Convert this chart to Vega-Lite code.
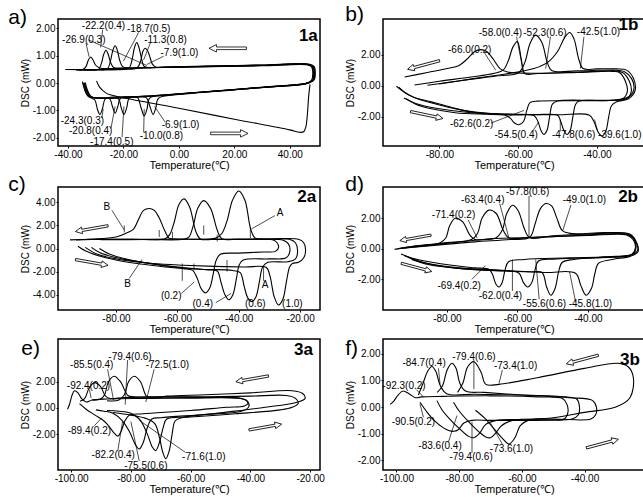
{
"$schema":"https://vega.github.io/schema/vega-lite/v6.json",
"background":"white",
"padding":{"left":7,"top":3,"right":0,"bottom":0},
"datasets":{
"curves":[
{"p":"a","s":"a1","x":-34.8,"y":0.05},{"p":"a","s":"a1","x":-34.0,"y":-0.25},{"p":"a","s":"a1","x":-33.0,"y":-0.45},{"p":"a","s":"a1","x":-31.5,"y":-0.55},{"p":"a","s":"a1","x":-30.3,"y":-0.62},{"p":"a","s":"a1","x":-29.4,"y":-0.95},{"p":"a","s":"a1","x":-28.5,"y":-1.15},{"p":"a","s":"a1","x":-27.6,"y":-0.95},{"p":"a","s":"a1","x":-26.7,"y":-0.6},{"p":"a","s":"a1","x":-25.5,"y":-0.53},{"p":"a","s":"a1","x":-15,"y":-0.5},{"p":"a","s":"a1","x":-5,"y":-0.44},{"p":"a","s":"a1","x":15,"y":-0.28},{"p":"a","s":"a1","x":35,"y":-0.12},{"p":"a","s":"a1","x":45.5,"y":-0.03},{"p":"a","s":"a1","x":47.8,"y":0.1},{"p":"a","s":"a1","x":48.3,"y":0.35},{"p":"a","s":"a1","x":47.8,"y":0.6},{"p":"a","s":"a1","x":46.5,"y":0.66},{"p":"a","s":"a1","x":30,"y":0.63},{"p":"a","s":"a1","x":10,"y":0.6},{"p":"a","s":"a1","x":-10,"y":0.56},{"p":"a","s":"a1","x":-25,"y":0.53},{"p":"a","s":"a1","x":-28.5,"y":0.55},{"p":"a","s":"a1","x":-30.0,"y":0.65},{"p":"a","s":"a1","x":-31.0,"y":0.85},{"p":"a","s":"a1","x":-31.8,"y":0.95},{"p":"a","s":"a1","x":-32.6,"y":0.85},{"p":"a","s":"a1","x":-33.5,"y":0.6},{"p":"a","s":"a1","x":-34.5,"y":0.5},{"p":"a","s":"a1","x":-37,"y":0.47},
{"p":"a","s":"a2","x":-34.5,"y":0.0},{"p":"a","s":"a2","x":-33.6,"y":-0.3},{"p":"a","s":"a2","x":-32.5,"y":-0.5},{"p":"a","s":"a2","x":-28,"y":-0.55},{"p":"a","s":"a2","x":-25,"y":-0.57},{"p":"a","s":"a2","x":-24.0,"y":-0.85},{"p":"a","s":"a2","x":-23.0,"y":-1.1},{"p":"a","s":"a2","x":-22.0,"y":-0.85},{"p":"a","s":"a2","x":-21.0,"y":-0.55},{"p":"a","s":"a2","x":-15,"y":-0.5},{"p":"a","s":"a2","x":-5,"y":-0.43},{"p":"a","s":"a2","x":15,"y":-0.27},{"p":"a","s":"a2","x":35,"y":-0.11},{"p":"a","s":"a2","x":45.8,"y":-0.02},{"p":"a","s":"a2","x":48.2,"y":0.1},{"p":"a","s":"a2","x":48.6,"y":0.35},{"p":"a","s":"a2","x":48.0,"y":0.6},{"p":"a","s":"a2","x":46.5,"y":0.67},{"p":"a","s":"a2","x":30,"y":0.64},{"p":"a","s":"a2","x":10,"y":0.6},{"p":"a","s":"a2","x":-10,"y":0.57},{"p":"a","s":"a2","x":-20,"y":0.55},{"p":"a","s":"a2","x":-23.5,"y":0.57},{"p":"a","s":"a2","x":-24.6,"y":0.75},{"p":"a","s":"a2","x":-25.5,"y":1.05},{"p":"a","s":"a2","x":-26.3,"y":1.2},{"p":"a","s":"a2","x":-27.1,"y":1.05},{"p":"a","s":"a2","x":-28.0,"y":0.7},{"p":"a","s":"a2","x":-29.0,"y":0.5},{"p":"a","s":"a2","x":-32,"y":0.47},{"p":"a","s":"a2","x":-36,"y":0.47},
{"p":"a","s":"a3","x":-34.2,"y":0.02},{"p":"a","s":"a3","x":-33.3,"y":-0.3},{"p":"a","s":"a3","x":-32.0,"y":-0.5},{"p":"a","s":"a3","x":-25,"y":-0.55},{"p":"a","s":"a3","x":-21.8,"y":-0.58},{"p":"a","s":"a3","x":-20.8,"y":-0.9},{"p":"a","s":"a3","x":-19.8,"y":-1.15},{"p":"a","s":"a3","x":-18.8,"y":-0.9},{"p":"a","s":"a3","x":-17.8,"y":-0.55},{"p":"a","s":"a3","x":-10,"y":-0.48},{"p":"a","s":"a3","x":0,"y":-0.4},{"p":"a","s":"a3","x":20,"y":-0.24},{"p":"a","s":"a3","x":40,"y":-0.08},{"p":"a","s":"a3","x":46.2,"y":0.0},{"p":"a","s":"a3","x":48.5,"y":0.12},{"p":"a","s":"a3","x":48.9,"y":0.35},{"p":"a","s":"a3","x":48.3,"y":0.6},{"p":"a","s":"a3","x":46.8,"y":0.68},{"p":"a","s":"a3","x":30,"y":0.65},{"p":"a","s":"a3","x":10,"y":0.61},{"p":"a","s":"a3","x":-10,"y":0.57},{"p":"a","s":"a3","x":-18,"y":0.55},{"p":"a","s":"a3","x":-20.3,"y":0.6},{"p":"a","s":"a3","x":-21.4,"y":0.85},{"p":"a","s":"a3","x":-22.2,"y":1.2},{"p":"a","s":"a3","x":-23.0,"y":1.36},{"p":"a","s":"a3","x":-23.8,"y":1.2},{"p":"a","s":"a3","x":-24.7,"y":0.8},{"p":"a","s":"a3","x":-25.8,"y":0.52},{"p":"a","s":"a3","x":-30,"y":0.48},{"p":"a","s":"a3","x":-34,"y":0.48},
{"p":"a","s":"a4","x":-34.0,"y":0.0},{"p":"a","s":"a4","x":-33.0,"y":-0.32},{"p":"a","s":"a4","x":-31.8,"y":-0.5},{"p":"a","s":"a4","x":-25,"y":-0.55},{"p":"a","s":"a4","x":-15,"y":-0.53},{"p":"a","s":"a4","x":-14.5,"y":-0.6},{"p":"a","s":"a4","x":-13.5,"y":-0.95},{"p":"a","s":"a4","x":-12.5,"y":-1.2},{"p":"a","s":"a4","x":-11.5,"y":-0.95},{"p":"a","s":"a4","x":-10.5,"y":-0.55},{"p":"a","s":"a4","x":-5,"y":-0.45},{"p":"a","s":"a4","x":10,"y":-0.32},{"p":"a","s":"a4","x":30,"y":-0.16},{"p":"a","s":"a4","x":46,"y":-0.02},{"p":"a","s":"a4","x":48.5,"y":0.1},{"p":"a","s":"a4","x":49.0,"y":0.35},{"p":"a","s":"a4","x":48.5,"y":0.6},{"p":"a","s":"a4","x":47,"y":0.68},{"p":"a","s":"a4","x":30,"y":0.65},{"p":"a","s":"a4","x":10,"y":0.61},{"p":"a","s":"a4","x":-8,"y":0.57},{"p":"a","s":"a4","x":-11,"y":0.56},{"p":"a","s":"a4","x":-12.6,"y":0.62},{"p":"a","s":"a4","x":-13.6,"y":0.95},{"p":"a","s":"a4","x":-14.4,"y":1.3},{"p":"a","s":"a4","x":-15.2,"y":1.48},{"p":"a","s":"a4","x":-16.0,"y":1.3},{"p":"a","s":"a4","x":-16.9,"y":0.85},{"p":"a","s":"a4","x":-18.0,"y":0.55},{"p":"a","s":"a4","x":-22,"y":0.5},{"p":"a","s":"a4","x":-30,"y":0.49},{"p":"a","s":"a4","x":-41,"y":0.5},
{"p":"a","s":"a5","x":-33.8,"y":0.02},{"p":"a","s":"a5","x":-32.8,"y":-0.3},{"p":"a","s":"a5","x":-31.5,"y":-0.5},{"p":"a","s":"a5","x":-20,"y":-0.54},{"p":"a","s":"a5","x":-12,"y":-0.52},{"p":"a","s":"a5","x":-11.3,"y":-0.6},{"p":"a","s":"a5","x":-10.3,"y":-0.9},{"p":"a","s":"a5","x":-9.3,"y":-1.15},{"p":"a","s":"a5","x":-8.3,"y":-0.9},{"p":"a","s":"a5","x":-7.3,"y":-0.55},{"p":"a","s":"a5","x":0,"y":-0.42},{"p":"a","s":"a5","x":20,"y":-0.25},{"p":"a","s":"a5","x":40,"y":-0.08},{"p":"a","s":"a5","x":46.4,"y":0.0},{"p":"a","s":"a5","x":48.8,"y":0.12},{"p":"a","s":"a5","x":49.2,"y":0.35},{"p":"a","s":"a5","x":48.8,"y":0.6},{"p":"a","s":"a5","x":47.2,"y":0.69},{"p":"a","s":"a5","x":30,"y":0.66},{"p":"a","s":"a5","x":10,"y":0.62},{"p":"a","s":"a5","x":-5,"y":0.58},{"p":"a","s":"a5","x":-8.3,"y":0.58},{"p":"a","s":"a5","x":-9.6,"y":0.7},{"p":"a","s":"a5","x":-10.6,"y":1.0},{"p":"a","s":"a5","x":-11.4,"y":1.2},{"p":"a","s":"a5","x":-12.2,"y":1.27},{"p":"a","s":"a5","x":-13.0,"y":1.15},{"p":"a","s":"a5","x":-13.8,"y":0.8},{"p":"a","s":"a5","x":-15,"y":0.56},{"p":"a","s":"a5","x":-20,"y":0.5},{"p":"a","s":"a5","x":-28,"y":0.49},
{"p":"a","s":"a6","x":-29.7,"y":0.08},{"p":"a","s":"a6","x":-28.6,"y":-0.15},{"p":"a","s":"a6","x":-26.5,"y":-0.35},{"p":"a","s":"a6","x":-24.8,"y":-0.43},{"p":"a","s":"a6","x":0,"y":-0.92},{"p":"a","s":"a6","x":20,"y":-1.32},{"p":"a","s":"a6","x":40,"y":-1.71},{"p":"a","s":"a6","x":43.5,"y":-1.8},{"p":"a","s":"a6","x":45.0,"y":-1.78},{"p":"a","s":"a6","x":45.8,"y":-1.6},{"p":"a","s":"a6","x":46.3,"y":-1.2},{"p":"a","s":"a6","x":46.8,"y":-0.5},{"p":"a","s":"a6","x":47.3,"y":-0.05},

{"p":"b","s":"b1","x":-90.9,"y":-0.04},{"p":"b","s":"b1","x":-89,"y":-0.4},{"p":"b","s":"b1","x":-86.5,"y":-0.75},{"p":"b","s":"b1","x":-82,"y":-1.05},{"p":"b","s":"b1","x":-77,"y":-1.4},{"p":"b","s":"b1","x":-72,"y":-1.7},{"p":"b","s":"b1","x":-67,"y":-1.82},{"p":"b","s":"b1","x":-63.5,"y":-1.9},{"p":"b","s":"b1","x":-62,"y":-2.1},{"p":"b","s":"b1","x":-61,"y":-2.4},{"p":"b","s":"b1","x":-59.8,"y":-2.53},{"p":"b","s":"b1","x":-58.6,"y":-2.3},{"p":"b","s":"b1","x":-57.8,"y":-1.6},{"p":"b","s":"b1","x":-57,"y":-1.1},{"p":"b","s":"b1","x":-55,"y":-1.0},{"p":"b","s":"b1","x":-45,"y":-0.98},{"p":"b","s":"b1","x":-36,"y":-0.95},{"p":"b","s":"b1","x":-32.5,"y":-0.85},{"p":"b","s":"b1","x":-31.3,"y":-0.4},{"p":"b","s":"b1","x":-31.8,"y":0.3},{"p":"b","s":"b1","x":-33.5,"y":0.85},{"p":"b","s":"b1","x":-36,"y":0.95},{"p":"b","s":"b1","x":-45,"y":0.86},{"p":"b","s":"b1","x":-55,"y":0.8},{"p":"b","s":"b1","x":-62.7,"y":0.88},{"p":"b","s":"b1","x":-64.6,"y":1.1},{"p":"b","s":"b1","x":-66.3,"y":1.7},{"p":"b","s":"b1","x":-68,"y":2.2},{"p":"b","s":"b1","x":-69.5,"y":2.32},{"p":"b","s":"b1","x":-71,"y":2.2},{"p":"b","s":"b1","x":-73,"y":1.7},{"p":"b","s":"b1","x":-75,"y":1.3},{"p":"b","s":"b1","x":-78,"y":1.1},{"p":"b","s":"b1","x":-83,"y":0.85},{"p":"b","s":"b1","x":-88.8,"y":0.55},
{"p":"b","s":"b2","x":-88.4,"y":-0.84},{"p":"b","s":"b2","x":-86,"y":-1.2},{"p":"b","s":"b2","x":-82,"y":-1.5},{"p":"b","s":"b2","x":-76,"y":-1.75},{"p":"b","s":"b2","x":-68,"y":-1.85},{"p":"b","s":"b2","x":-60,"y":-1.9},{"p":"b","s":"b2","x":-56,"y":-1.93},{"p":"b","s":"b2","x":-55,"y":-2.3},{"p":"b","s":"b2","x":-54.2,"y":-2.9},{"p":"b","s":"b2","x":-53.5,"y":-3.16},{"p":"b","s":"b2","x":-52.7,"y":-2.9},{"p":"b","s":"b2","x":-52,"y":-2.0},{"p":"b","s":"b2","x":-51.3,"y":-1.2},{"p":"b","s":"b2","x":-50,"y":-1.0},{"p":"b","s":"b2","x":-40,"y":-0.95},{"p":"b","s":"b2","x":-33.5,"y":-0.85},{"p":"b","s":"b2","x":-32.3,"y":-0.4},{"p":"b","s":"b2","x":-32.8,"y":0.3},{"p":"b","s":"b2","x":-34.3,"y":0.85},{"p":"b","s":"b2","x":-36,"y":0.92},{"p":"b","s":"b2","x":-45,"y":0.85},{"p":"b","s":"b2","x":-55,"y":0.78},{"p":"b","s":"b2","x":-58.3,"y":0.78},{"p":"b","s":"b2","x":-59.2,"y":1.7},{"p":"b","s":"b2","x":-60.2,"y":2.84},{"p":"b","s":"b2","x":-61.3,"y":2.5},{"p":"b","s":"b2","x":-62.5,"y":1.6},{"p":"b","s":"b2","x":-63.8,"y":1.0},{"p":"b","s":"b2","x":-66,"y":0.8},{"p":"b","s":"b2","x":-72,"y":0.55},{"p":"b","s":"b2","x":-80,"y":0.28},{"p":"b","s":"b2","x":-86.3,"y":0.04},
{"p":"b","s":"b3","x":-90.3,"y":-0.1},{"p":"b","s":"b3","x":-88.5,"y":-0.5},{"p":"b","s":"b3","x":-85.5,"y":-0.85},{"p":"b","s":"b3","x":-80,"y":-1.25},{"p":"b","s":"b3","x":-74,"y":-1.6},{"p":"b","s":"b3","x":-66,"y":-1.82},{"p":"b","s":"b3","x":-56,"y":-1.88},{"p":"b","s":"b3","x":-50,"y":-1.92},{"p":"b","s":"b3","x":-49.2,"y":-2.3},{"p":"b","s":"b3","x":-48.4,"y":-2.9},{"p":"b","s":"b3","x":-47.6,"y":-3.16},{"p":"b","s":"b3","x":-46.8,"y":-2.9},{"p":"b","s":"b3","x":-46.1,"y":-2.0},{"p":"b","s":"b3","x":-45.4,"y":-1.2},{"p":"b","s":"b3","x":-44.5,"y":-1.0},{"p":"b","s":"b3","x":-36,"y":-0.95},{"p":"b","s":"b3","x":-31.8,"y":-0.7},{"p":"b","s":"b3","x":-30.6,"y":-0.2},{"p":"b","s":"b3","x":-31.2,"y":0.45},{"p":"b","s":"b3","x":-33,"y":0.9},{"p":"b","s":"b3","x":-36,"y":1.0},{"p":"b","s":"b3","x":-45,"y":0.95},{"p":"b","s":"b3","x":-51.5,"y":0.98},{"p":"b","s":"b3","x":-52.6,"y":1.5},{"p":"b","s":"b3","x":-54.0,"y":2.8},{"p":"b","s":"b3","x":-55.6,"y":3.26},{"p":"b","s":"b3","x":-57.0,"y":2.7},{"p":"b","s":"b3","x":-58.3,"y":1.5},{"p":"b","s":"b3","x":-59.8,"y":0.85},{"p":"b","s":"b3","x":-66,"y":0.6},{"p":"b","s":"b3","x":-74,"y":0.35},{"p":"b","s":"b3","x":-83,"y":0.02},
{"p":"b","s":"b4","x":-89,"y":-0.8},{"p":"b","s":"b4","x":-86,"y":-1.15},{"p":"b","s":"b4","x":-80,"y":-1.5},{"p":"b","s":"b4","x":-72,"y":-1.75},{"p":"b","s":"b4","x":-60,"y":-1.85},{"p":"b","s":"b4","x":-50,"y":-1.88},{"p":"b","s":"b4","x":-42,"y":-1.9},{"p":"b","s":"b4","x":-40.8,"y":-2.3},{"p":"b","s":"b4","x":-39.7,"y":-3.0},{"p":"b","s":"b4","x":-38.7,"y":-3.26},{"p":"b","s":"b4","x":-37.7,"y":-2.9},{"p":"b","s":"b4","x":-37.0,"y":-2.0},{"p":"b","s":"b4","x":-36.3,"y":-1.3},{"p":"b","s":"b4","x":-35,"y":-1.05},{"p":"b","s":"b4","x":-32,"y":-0.85},{"p":"b","s":"b4","x":-30.3,"y":-0.3},{"p":"b","s":"b4","x":-30.8,"y":0.5},{"p":"b","s":"b4","x":-32.5,"y":1.0},{"p":"b","s":"b4","x":-35,"y":1.08},{"p":"b","s":"b4","x":-40,"y":1.08},{"p":"b","s":"b4","x":-43.5,"y":1.1},{"p":"b","s":"b4","x":-44.6,"y":1.7},{"p":"b","s":"b4","x":-45.8,"y":3.0},{"p":"b","s":"b4","x":-46.9,"y":3.43},{"p":"b","s":"b4","x":-48.2,"y":3.1},{"p":"b","s":"b4","x":-50,"y":2.2},{"p":"b","s":"b4","x":-52.5,"y":1.5},{"p":"b","s":"b4","x":-56,"y":1.1},{"p":"b","s":"b4","x":-62,"y":0.8},{"p":"b","s":"b4","x":-70,"y":0.5},{"p":"b","s":"b4","x":-80,"y":0.1},

{"p":"c","s":"c1","x":-92.4,"y":0.2},{"p":"c","s":"c1","x":-90,"y":-0.2},{"p":"c","s":"c1","x":-86,"y":-0.6},{"p":"c","s":"c1","x":-80,"y":-1.0},{"p":"c","s":"c1","x":-72,"y":-1.35},{"p":"c","s":"c1","x":-64,"y":-1.6},{"p":"c","s":"c1","x":-58,"y":-1.75},{"p":"c","s":"c1","x":-55,"y":-1.9},{"p":"c","s":"c1","x":-53.5,"y":-2.6},{"p":"c","s":"c1","x":-52.2,"y":-3.5},{"p":"c","s":"c1","x":-50.8,"y":-3.85},{"p":"c","s":"c1","x":-49.4,"y":-3.4},{"p":"c","s":"c1","x":-48.3,"y":-2.2},{"p":"c","s":"c1","x":-47.3,"y":-1.0},{"p":"c","s":"c1","x":-46,"y":-0.5},{"p":"c","s":"c1","x":-40,"y":-0.4},{"p":"c","s":"c1","x":-32,"y":-0.3},{"p":"c","s":"c1","x":-28,"y":-0.25},{"p":"c","s":"c1","x":-27,"y":0.1},{"p":"c","s":"c1","x":-27.5,"y":0.5},{"p":"c","s":"c1","x":-29,"y":0.75},{"p":"c","s":"c1","x":-40,"y":0.78},{"p":"c","s":"c1","x":-55,"y":0.8},{"p":"c","s":"c1","x":-61,"y":0.82},{"p":"c","s":"c1","x":-62.7,"y":0.9},{"p":"c","s":"c1","x":-64.2,"y":1.6},{"p":"c","s":"c1","x":-66,"y":2.7},{"p":"c","s":"c1","x":-67.5,"y":3.3},{"p":"c","s":"c1","x":-69.2,"y":3.47},{"p":"c","s":"c1","x":-71,"y":3.3},{"p":"c","s":"c1","x":-72.7,"y":2.5},{"p":"c","s":"c1","x":-74.2,"y":1.7},{"p":"c","s":"c1","x":-76,"y":1.4},{"p":"c","s":"c1","x":-80,"y":1.0},{"p":"c","s":"c1","x":-88,"y":0.82},{"p":"c","s":"c1","x":-95,"y":0.75},
{"p":"c","s":"c2","x":-85.4,"y":0.0},{"p":"c","s":"c2","x":-82,"y":-0.5},{"p":"c","s":"c2","x":-76,"y":-0.95},{"p":"c","s":"c2","x":-68,"y":-1.35},{"p":"c","s":"c2","x":-60,"y":-1.65},{"p":"c","s":"c2","x":-50,"y":-1.85},{"p":"c","s":"c2","x":-47,"y":-1.95},{"p":"c","s":"c2","x":-45.8,"y":-2.9},{"p":"c","s":"c2","x":-44.5,"y":-4.0},{"p":"c","s":"c2","x":-43.2,"y":-4.44},{"p":"c","s":"c2","x":-41.9,"y":-4.0},{"p":"c","s":"c2","x":-40.8,"y":-2.7},{"p":"c","s":"c2","x":-39.8,"y":-1.4},{"p":"c","s":"c2","x":-38.5,"y":-1.0},{"p":"c","s":"c2","x":-30,"y":-0.9},{"p":"c","s":"c2","x":-24.5,"y":-0.8},{"p":"c","s":"c2","x":-23.3,"y":-0.2},{"p":"c","s":"c2","x":-23.8,"y":0.4},{"p":"c","s":"c2","x":-25.5,"y":0.72},{"p":"c","s":"c2","x":-35,"y":0.78},{"p":"c","s":"c2","x":-48,"y":0.8},{"p":"c","s":"c2","x":-52.5,"y":0.82},{"p":"c","s":"c2","x":-54,"y":1.5},{"p":"c","s":"c2","x":-56,"y":3.6},{"p":"c","s":"c2","x":-57.8,"y":4.3},{"p":"c","s":"c2","x":-59.5,"y":3.8},{"p":"c","s":"c2","x":-61,"y":2.3},{"p":"c","s":"c2","x":-62.5,"y":1.2},{"p":"c","s":"c2","x":-64,"y":0.85},{"p":"c","s":"c2","x":-75,"y":0.8},{"p":"c","s":"c2","x":-88,"y":0.78},{"p":"c","s":"c2","x":-93,"y":0.74},
{"p":"c","s":"c3","x":-88,"y":0.1},{"p":"c","s":"c3","x":-85,"y":-0.4},{"p":"c","s":"c3","x":-78,"y":-0.9},{"p":"c","s":"c3","x":-70,"y":-1.25},{"p":"c","s":"c3","x":-62,"y":-1.55},{"p":"c","s":"c3","x":-52,"y":-1.8},{"p":"c","s":"c3","x":-42,"y":-1.9},{"p":"c","s":"c3","x":-39.5,"y":-2.1},{"p":"c","s":"c3","x":-38.2,"y":-3.3},{"p":"c","s":"c3","x":-37,"y":-4.3},{"p":"c","s":"c3","x":-35.7,"y":-4.6},{"p":"c","s":"c3","x":-34.4,"y":-4.2},{"p":"c","s":"c3","x":-33.2,"y":-2.8},{"p":"c","s":"c3","x":-32.2,"y":-1.6},{"p":"c","s":"c3","x":-30.5,"y":-1.2},{"p":"c","s":"c3","x":-24,"y":-1.15},{"p":"c","s":"c3","x":-21.5,"y":-0.9},{"p":"c","s":"c3","x":-20.8,"y":-0.2},{"p":"c","s":"c3","x":-21.5,"y":0.5},{"p":"c","s":"c3","x":-23.5,"y":0.8},{"p":"c","s":"c3","x":-30,"y":0.82},{"p":"c","s":"c3","x":-40,"y":0.82},{"p":"c","s":"c3","x":-45.5,"y":0.85},{"p":"c","s":"c3","x":-47,"y":1.6},{"p":"c","s":"c3","x":-49.2,"y":3.5},{"p":"c","s":"c3","x":-51.4,"y":4.15},{"p":"c","s":"c3","x":-53.3,"y":3.5},{"p":"c","s":"c3","x":-54.8,"y":2.0},{"p":"c","s":"c3","x":-56.2,"y":1.0},{"p":"c","s":"c3","x":-58,"y":0.8},{"p":"c","s":"c3","x":-70,"y":0.78},{"p":"c","s":"c3","x":-85,"y":0.76},
{"p":"c","s":"c4","x":-90,"y":0.1},{"p":"c","s":"c4","x":-86,"y":-0.5},{"p":"c","s":"c4","x":-78,"y":-1.0},{"p":"c","s":"c4","x":-68,"y":-1.3},{"p":"c","s":"c4","x":-58,"y":-1.45},{"p":"c","s":"c4","x":-48,"y":-1.55},{"p":"c","s":"c4","x":-38,"y":-1.6},{"p":"c","s":"c4","x":-31,"y":-1.65},{"p":"c","s":"c4","x":-29.8,"y":-2.4},{"p":"c","s":"c4","x":-28.4,"y":-4.2},{"p":"c","s":"c4","x":-27,"y":-4.9},{"p":"c","s":"c4","x":-25.6,"y":-4.4},{"p":"c","s":"c4","x":-24.4,"y":-2.8},{"p":"c","s":"c4","x":-23.4,"y":-1.6},{"p":"c","s":"c4","x":-22.5,"y":-1.3},{"p":"c","s":"c4","x":-20.5,"y":-1.2},{"p":"c","s":"c4","x":-18.8,"y":-0.8},{"p":"c","s":"c4","x":-18.2,"y":-0.2},{"p":"c","s":"c4","x":-18.8,"y":0.5},{"p":"c","s":"c4","x":-20.5,"y":0.8},{"p":"c","s":"c4","x":-28,"y":0.85},{"p":"c","s":"c4","x":-34.5,"y":0.88},{"p":"c","s":"c4","x":-36,"y":1.6},{"p":"c","s":"c4","x":-38,"y":4.2},{"p":"c","s":"c4","x":-40,"y":4.98},{"p":"c","s":"c4","x":-42,"y":4.2},{"p":"c","s":"c4","x":-43.8,"y":2.4},{"p":"c","s":"c4","x":-45.5,"y":1.3},{"p":"c","s":"c4","x":-47.5,"y":0.9},{"p":"c","s":"c4","x":-60,"y":0.82},{"p":"c","s":"c4","x":-75,"y":0.8},{"p":"c","s":"c4","x":-90,"y":0.78},

{"p":"d","s":"d1","x":-93,"y":-0.35},{"p":"d","s":"d1","x":-90,"y":-0.6},{"p":"d","s":"d1","x":-85,"y":-0.85},{"p":"d","s":"d1","x":-78,"y":-1.1},{"p":"d","s":"d1","x":-72,"y":-1.25},{"p":"d","s":"d1","x":-68,"y":-1.35},{"p":"d","s":"d1","x":-67,"y":-1.7},{"p":"d","s":"d1","x":-66.1,"y":-2.3},{"p":"d","s":"d1","x":-65.2,"y":-2.5},{"p":"d","s":"d1","x":-64.3,"y":-2.2},{"p":"d","s":"d1","x":-63.5,"y":-1.4},{"p":"d","s":"d1","x":-62.5,"y":-0.85},{"p":"d","s":"d1","x":-58,"y":-0.7},{"p":"d","s":"d1","x":-45,"y":-0.6},{"p":"d","s":"d1","x":-32,"y":-0.5},{"p":"d","s":"d1","x":-27.5,"y":-0.35},{"p":"d","s":"d1","x":-26.5,"y":0.1},{"p":"d","s":"d1","x":-27.2,"y":0.6},{"p":"d","s":"d1","x":-29,"y":0.9},{"p":"d","s":"d1","x":-40,"y":0.86},{"p":"d","s":"d1","x":-55,"y":0.75},{"p":"d","s":"d1","x":-68,"y":0.65},{"p":"d","s":"d1","x":-72,"y":0.6},{"p":"d","s":"d1","x":-73.5,"y":0.9},{"p":"d","s":"d1","x":-75.5,"y":1.75},{"p":"d","s":"d1","x":-77.6,"y":1.99},{"p":"d","s":"d1","x":-79.2,"y":1.5},{"p":"d","s":"d1","x":-80.3,"y":0.7},{"p":"d","s":"d1","x":-82,"y":0.38},{"p":"d","s":"d1","x":-88,"y":0.2},{"p":"d","s":"d1","x":-94.8,"y":-0.04},
{"p":"d","s":"d2","x":-92,"y":-0.45},{"p":"d","s":"d2","x":-88,"y":-0.8},{"p":"d","s":"d2","x":-82,"y":-1.1},{"p":"d","s":"d2","x":-74,"y":-1.3},{"p":"d","s":"d2","x":-62,"y":-1.45},{"p":"d","s":"d2","x":-59.5,"y":-1.6},{"p":"d","s":"d2","x":-58.3,"y":-2.2},{"p":"d","s":"d2","x":-57.1,"y":-2.5},{"p":"d","s":"d2","x":-55.9,"y":-2.2},{"p":"d","s":"d2","x":-55,"y":-1.4},{"p":"d","s":"d2","x":-54,"y":-0.8},{"p":"d","s":"d2","x":-50,"y":-0.68},{"p":"d","s":"d2","x":-40,"y":-0.6},{"p":"d","s":"d2","x":-30,"y":-0.5},{"p":"d","s":"d2","x":-27,"y":-0.3},{"p":"d","s":"d2","x":-26.3,"y":0.15},{"p":"d","s":"d2","x":-27,"y":0.65},{"p":"d","s":"d2","x":-29,"y":0.95},{"p":"d","s":"d2","x":-40,"y":0.9},{"p":"d","s":"d2","x":-55,"y":0.75},{"p":"d","s":"d2","x":-62.5,"y":0.72},{"p":"d","s":"d2","x":-64,"y":1.2},{"p":"d","s":"d2","x":-66,"y":2.3},{"p":"d","s":"d2","x":-68.1,"y":2.52},{"p":"d","s":"d2","x":-70,"y":2.0},{"p":"d","s":"d2","x":-71.3,"y":1.0},{"p":"d","s":"d2","x":-73,"y":0.6},{"p":"d","s":"d2","x":-80,"y":0.4},{"p":"d","s":"d2","x":-88,"y":0.2},{"p":"d","s":"d2","x":-94,"y":0.0},
{"p":"d","s":"d3","x":-91,"y":-0.55},{"p":"d","s":"d3","x":-86,"y":-0.95},{"p":"d","s":"d3","x":-78,"y":-1.25},{"p":"d","s":"d3","x":-68,"y":-1.4},{"p":"d","s":"d3","x":-56,"y":-1.5},{"p":"d","s":"d3","x":-53,"y":-1.55},{"p":"d","s":"d3","x":-51.7,"y":-2.5},{"p":"d","s":"d3","x":-50.5,"y":-3.04},{"p":"d","s":"d3","x":-49.3,"y":-2.6},{"p":"d","s":"d3","x":-48.3,"y":-1.5},{"p":"d","s":"d3","x":-47.3,"y":-0.9},{"p":"d","s":"d3","x":-44,"y":-0.7},{"p":"d","s":"d3","x":-35,"y":-0.55},{"p":"d","s":"d3","x":-28,"y":-0.45},{"p":"d","s":"d3","x":-25.9,"y":-0.1},{"p":"d","s":"d3","x":-26.3,"y":0.4},{"p":"d","s":"d3","x":-28.5,"y":0.95},{"p":"d","s":"d3","x":-40,"y":0.95},{"p":"d","s":"d3","x":-50,"y":0.85},{"p":"d","s":"d3","x":-56.5,"y":0.72},{"p":"d","s":"d3","x":-58,"y":1.3},{"p":"d","s":"d3","x":-59.8,"y":2.5},{"p":"d","s":"d3","x":-61.4,"y":2.84},{"p":"d","s":"d3","x":-63,"y":2.3},{"p":"d","s":"d3","x":-64.3,"y":1.2},{"p":"d","s":"d3","x":-66,"y":0.72},{"p":"d","s":"d3","x":-72,"y":0.55},{"p":"d","s":"d3","x":-82,"y":0.3},{"p":"d","s":"d3","x":-93,"y":0.02},
{"p":"d","s":"d4","x":-90,"y":-0.7},{"p":"d","s":"d4","x":-85,"y":-1.05},{"p":"d","s":"d4","x":-76,"y":-1.3},{"p":"d","s":"d4","x":-64,"y":-1.45},{"p":"d","s":"d4","x":-52,"y":-1.55},{"p":"d","s":"d4","x":-43.5,"y":-1.6},{"p":"d","s":"d4","x":-42,"y":-2.4},{"p":"d","s":"d4","x":-40.5,"y":-3.04},{"p":"d","s":"d4","x":-39.0,"y":-2.6},{"p":"d","s":"d4","x":-38,"y":-1.6},{"p":"d","s":"d4","x":-37,"y":-0.95},{"p":"d","s":"d4","x":-33,"y":-0.7},{"p":"d","s":"d4","x":-28,"y":-0.5},{"p":"d","s":"d4","x":-25.8,"y":-0.2},{"p":"d","s":"d4","x":-26,"y":0.3},{"p":"d","s":"d4","x":-28,"y":0.95},{"p":"d","s":"d4","x":-35,"y":1.05},{"p":"d","s":"d4","x":-45,"y":1.0},{"p":"d","s":"d4","x":-47.3,"y":1.2},{"p":"d","s":"d4","x":-48.8,"y":2.0},{"p":"d","s":"d4","x":-50.3,"y":2.8},{"p":"d","s":"d4","x":-51.9,"y":2.95},{"p":"d","s":"d4","x":-53.5,"y":2.6},{"p":"d","s":"d4","x":-55,"y":1.6},{"p":"d","s":"d4","x":-56.5,"y":0.75},{"p":"d","s":"d4","x":-62,"y":0.6},{"p":"d","s":"d4","x":-72,"y":0.45},{"p":"d","s":"d4","x":-82,"y":0.25},{"p":"d","s":"d4","x":-92,"y":0.05},

{"p":"e","s":"e1","x":-97.2,"y":0.32},{"p":"e","s":"e1","x":-95,"y":-0.1},{"p":"e","s":"e1","x":-92,"y":-0.55},{"p":"e","s":"e1","x":-89,"y":-1.0},{"p":"e","s":"e1","x":-87,"y":-1.5},{"p":"e","s":"e1","x":-85.5,"y":-1.95},{"p":"e","s":"e1","x":-84.4,"y":-2.15},{"p":"e","s":"e1","x":-83.3,"y":-1.8},{"p":"e","s":"e1","x":-82,"y":-1.0},{"p":"e","s":"e1","x":-80.5,"y":-0.55},{"p":"e","s":"e1","x":-76,"y":-0.45},{"p":"e","s":"e1","x":-60,"y":-0.2},{"p":"e","s":"e1","x":-48,"y":0.05},{"p":"e","s":"e1","x":-42,"y":0.15},{"p":"e","s":"e1","x":-40.8,"y":0.35},{"p":"e","s":"e1","x":-41.5,"y":0.6},{"p":"e","s":"e1","x":-45,"y":0.75},{"p":"e","s":"e1","x":-60,"y":0.75},{"p":"e","s":"e1","x":-75,"y":0.72},{"p":"e","s":"e1","x":-88,"y":0.68},{"p":"e","s":"e1","x":-93,"y":0.6},{"p":"e","s":"e1","x":-95,"y":0.45},{"p":"e","s":"e1","x":-96.5,"y":0.7},{"p":"e","s":"e1","x":-97.7,"y":1.15},{"p":"e","s":"e1","x":-98.9,"y":1.31},{"p":"e","s":"e1","x":-99.8,"y":0.9},{"p":"e","s":"e1","x":-100.5,"y":0.3},{"p":"e","s":"e1","x":-101.2,"y":-0.1},
{"p":"e","s":"e2","x":-91.7,"y":-0.15},{"p":"e","s":"e2","x":-89,"y":-0.25},{"p":"e","s":"e2","x":-86,"y":-0.4},{"p":"e","s":"e2","x":-83,"y":-0.95},{"p":"e","s":"e2","x":-80.5,"y":-1.8},{"p":"e","s":"e2","x":-78.5,"y":-2.8},{"p":"e","s":"e2","x":-77.2,"y":-3.14},{"p":"e","s":"e2","x":-75.8,"y":-2.6},{"p":"e","s":"e2","x":-74.5,"y":-1.5},{"p":"e","s":"e2","x":-73,"y":-0.85},{"p":"e","s":"e2","x":-70,"y":-0.75},{"p":"e","s":"e2","x":-55,"y":-0.5},{"p":"e","s":"e2","x":-43,"y":-0.25},{"p":"e","s":"e2","x":-40.5,"y":0.1},{"p":"e","s":"e2","x":-41,"y":0.5},{"p":"e","s":"e2","x":-43,"y":0.72},{"p":"e","s":"e2","x":-55,"y":0.8},{"p":"e","s":"e2","x":-70,"y":0.82},{"p":"e","s":"e2","x":-82,"y":0.8},{"p":"e","s":"e2","x":-87,"y":0.72},{"p":"e","s":"e2","x":-88.5,"y":0.9},{"p":"e","s":"e2","x":-90.2,"y":1.65},{"p":"e","s":"e2","x":-92.2,"y":1.93},{"p":"e","s":"e2","x":-94,"y":1.5},{"p":"e","s":"e2","x":-95.5,"y":0.7},{"p":"e","s":"e2","x":-97,"y":0.5},
{"p":"e","s":"e3","x":-88,"y":-0.2},{"p":"e","s":"e3","x":-84,"y":-0.25},{"p":"e","s":"e3","x":-80,"y":-0.4},{"p":"e","s":"e3","x":-77,"y":-0.9},{"p":"e","s":"e3","x":-74.5,"y":-2.0},{"p":"e","s":"e3","x":-72.8,"y":-3.0},{"p":"e","s":"e3","x":-71.7,"y":-3.26},{"p":"e","s":"e3","x":-70.4,"y":-2.6},{"p":"e","s":"e3","x":-69.2,"y":-1.5},{"p":"e","s":"e3","x":-68,"y":-0.85},{"p":"e","s":"e3","x":-60,"y":-0.7},{"p":"e","s":"e3","x":-45,"y":-0.45},{"p":"e","s":"e3","x":-30,"y":-0.15},{"p":"e","s":"e3","x":-26,"y":0.05},{"p":"e","s":"e3","x":-24,"y":0.35},{"p":"e","s":"e3","x":-25,"y":0.75},{"p":"e","s":"e3","x":-28,"y":0.95},{"p":"e","s":"e3","x":-40,"y":0.9},{"p":"e","s":"e3","x":-55,"y":0.85},{"p":"e","s":"e3","x":-70,"y":0.85},{"p":"e","s":"e3","x":-79,"y":0.85},{"p":"e","s":"e3","x":-81,"y":0.95},{"p":"e","s":"e3","x":-83.5,"y":2.0},{"p":"e","s":"e3","x":-85.6,"y":2.42},{"p":"e","s":"e3","x":-87.5,"y":2.0},{"p":"e","s":"e3","x":-88.8,"y":1.0},{"p":"e","s":"e3","x":-90,"y":0.7},{"p":"e","s":"e3","x":-93,"y":0.6},
{"p":"e","s":"e4","x":-86,"y":-0.35},{"p":"e","s":"e4","x":-80,"y":-0.55},{"p":"e","s":"e4","x":-75,"y":-0.8},{"p":"e","s":"e4","x":-72,"y":-1.2},{"p":"e","s":"e4","x":-70.5,"y":-2.2},{"p":"e","s":"e4","x":-69.3,"y":-3.4},{"p":"e","s":"e4","x":-68.3,"y":-3.88},{"p":"e","s":"e4","x":-67.2,"y":-3.3},{"p":"e","s":"e4","x":-66.2,"y":-2.0},{"p":"e","s":"e4","x":-65.2,"y":-1.0},{"p":"e","s":"e4","x":-63,"y":-0.75},{"p":"e","s":"e4","x":-50,"y":-0.38},{"p":"e","s":"e4","x":-35,"y":0.05},{"p":"e","s":"e4","x":-25,"y":0.4},{"p":"e","s":"e4","x":-21.7,"y":0.72},{"p":"e","s":"e4","x":-22.5,"y":1.1},{"p":"e","s":"e4","x":-26,"y":1.31},{"p":"e","s":"e4","x":-40,"y":1.15},{"p":"e","s":"e4","x":-55,"y":1.0},{"p":"e","s":"e4","x":-68,"y":0.9},{"p":"e","s":"e4","x":-73,"y":0.75},{"p":"e","s":"e4","x":-74.8,"y":0.9},{"p":"e","s":"e4","x":-76.8,"y":2.0},{"p":"e","s":"e4","x":-78.9,"y":2.42},{"p":"e","s":"e4","x":-80.8,"y":2.0},{"p":"e","s":"e4","x":-82.2,"y":1.0},{"p":"e","s":"e4","x":-84,"y":0.6},{"p":"e","s":"e4","x":-88,"y":0.55},

{"p":"f","s":"f1","x":-92.5,"y":0.18},{"p":"f","s":"f1","x":-90.5,"y":-0.15},{"p":"f","s":"f1","x":-88,"y":-0.5},{"p":"f","s":"f1","x":-85,"y":-0.78},{"p":"f","s":"f1","x":-83.3,"y":-0.88},{"p":"f","s":"f1","x":-81.8,"y":-0.91},{"p":"f","s":"f1","x":-80.3,"y":-0.85},{"p":"f","s":"f1","x":-78.5,"y":-0.6},{"p":"f","s":"f1","x":-76,"y":-0.5},{"p":"f","s":"f1","x":-70,"y":-0.5},{"p":"f","s":"f1","x":-60,"y":-0.5},{"p":"f","s":"f1","x":-50,"y":-0.48},{"p":"f","s":"f1","x":-46.5,"y":-0.45},{"p":"f","s":"f1","x":-45.3,"y":-0.2},{"p":"f","s":"f1","x":-45.6,"y":0.1},{"p":"f","s":"f1","x":-47,"y":0.32},{"p":"f","s":"f1","x":-55,"y":0.38},{"p":"f","s":"f1","x":-70,"y":0.42},{"p":"f","s":"f1","x":-85,"y":0.4},{"p":"f","s":"f1","x":-92,"y":0.38},{"p":"f","s":"f1","x":-94,"y":0.35},{"p":"f","s":"f1","x":-96,"y":0.5},{"p":"f","s":"f1","x":-97.9,"y":0.6},{"p":"f","s":"f1","x":-99.5,"y":0.45},{"p":"f","s":"f1","x":-101,"y":0.2},{"p":"f","s":"f1","x":-102,"y":0.1},
{"p":"f","s":"f2","x":-87.1,"y":0.24},{"p":"f","s":"f2","x":-85.5,"y":-0.1},{"p":"f","s":"f2","x":-83,"y":-0.45},{"p":"f","s":"f2","x":-80,"y":-0.8},{"p":"f","s":"f2","x":-77,"y":-1.1},{"p":"f","s":"f2","x":-75.3,"y":-1.15},{"p":"f","s":"f2","x":-73.6,"y":-1.0},{"p":"f","s":"f2","x":-71.5,"y":-0.65},{"p":"f","s":"f2","x":-68,"y":-0.5},{"p":"f","s":"f2","x":-55,"y":-0.48},{"p":"f","s":"f2","x":-44,"y":-0.45},{"p":"f","s":"f2","x":-42,"y":-0.3},{"p":"f","s":"f2","x":-41.6,"y":0.0},{"p":"f","s":"f2","x":-42.5,"y":0.3},{"p":"f","s":"f2","x":-46,"y":0.38},{"p":"f","s":"f2","x":-60,"y":0.45},{"p":"f","s":"f2","x":-75,"y":0.48},{"p":"f","s":"f2","x":-84,"y":0.5},{"p":"f","s":"f2","x":-86,"y":0.8},{"p":"f","s":"f2","x":-87.5,"y":1.35},{"p":"f","s":"f2","x":-88.7,"y":1.52},{"p":"f","s":"f2","x":-90,"y":1.35},{"p":"f","s":"f2","x":-91.5,"y":0.9},{"p":"f","s":"f2","x":-93,"y":0.45},
{"p":"f","s":"f3","x":-81.8,"y":0.18},{"p":"f","s":"f3","x":-80,"y":-0.15},{"p":"f","s":"f3","x":-77,"y":-0.55},{"p":"f","s":"f3","x":-73.5,"y":-0.95},{"p":"f","s":"f3","x":-71.5,"y":-1.12},{"p":"f","s":"f3","x":-70,"y":-1.15},{"p":"f","s":"f3","x":-68.5,"y":-1.0},{"p":"f","s":"f3","x":-66.5,"y":-0.7},{"p":"f","s":"f3","x":-63,"y":-0.5},{"p":"f","s":"f3","x":-50,"y":-0.45},{"p":"f","s":"f3","x":-38,"y":-0.45},{"p":"f","s":"f3","x":-36.5,"y":-0.3},{"p":"f","s":"f3","x":-36.2,"y":0.0},{"p":"f","s":"f3","x":-37.5,"y":0.25},{"p":"f","s":"f3","x":-45,"y":0.35},{"p":"f","s":"f3","x":-60,"y":0.45},{"p":"f","s":"f3","x":-72,"y":0.55},{"p":"f","s":"f3","x":-78,"y":0.6},{"p":"f","s":"f3","x":-79.8,"y":0.9},{"p":"f","s":"f3","x":-81,"y":1.45},{"p":"f","s":"f3","x":-82.3,"y":1.64},{"p":"f","s":"f3","x":-83.8,"y":1.4},{"p":"f","s":"f3","x":-85.3,"y":0.8},{"p":"f","s":"f3","x":-87,"y":0.55},
{"p":"f","s":"f4","x":-74.8,"y":-0.12},{"p":"f","s":"f4","x":-72,"y":-0.4},{"p":"f","s":"f4","x":-69,"y":-0.8},{"p":"f","s":"f4","x":-66,"y":-1.2},{"p":"f","s":"f4","x":-64.1,"y":-1.39},{"p":"f","s":"f4","x":-62.2,"y":-1.15},{"p":"f","s":"f4","x":-60.5,"y":-0.7},{"p":"f","s":"f4","x":-58,"y":-0.5},{"p":"f","s":"f4","x":-50,"y":-0.4},{"p":"f","s":"f4","x":-40,"y":-0.2},{"p":"f","s":"f4","x":-30,"y":0.0},{"p":"f","s":"f4","x":-25.5,"y":0.35},{"p":"f","s":"f4","x":-24.4,"y":1.09},{"p":"f","s":"f4","x":-26,"y":1.5},{"p":"f","s":"f4","x":-29.3,"y":1.64},{"p":"f","s":"f4","x":-40,"y":1.45},{"p":"f","s":"f4","x":-55,"y":1.1},{"p":"f","s":"f4","x":-67.3,"y":0.85},{"p":"f","s":"f4","x":-71.5,"y":0.85},{"p":"f","s":"f4","x":-73,"y":1.3},{"p":"f","s":"f4","x":-75.3,"y":1.7},{"p":"f","s":"f4","x":-77.3,"y":1.5},{"p":"f","s":"f4","x":-78.8,"y":0.9},{"p":"f","s":"f4","x":-80.5,"y":0.55}
],
"leaders":[
{"p":"a","s":"l1","x":-33.5,"y":1.46},{"p":"a","s":"l1","x":-32.4,"y":0.96},
{"p":"a","s":"l2","x":-27.5,"y":1.95},{"p":"a","s":"l2","x":-28.2,"y":1.3},
{"p":"a","s":"l3","x":-14.5,"y":1.85},{"p":"a","s":"l3","x":-20,"y":0.8},
{"p":"a","s":"l4","x":-10.3,"y":1.46},{"p":"a","s":"l4","x":-12.7,"y":0.85},
{"p":"a","s":"l5","x":-5.5,"y":0.98},{"p":"a","s":"l5","x":-11.5,"y":0.68},
{"p":"a","s":"l6","x":-32.7,"y":1.58},{"p":"a","s":"l6","x":-11.5,"y":0.64},
{"p":"a","s":"l7","x":-27.8,"y":-1.28},{"p":"a","s":"l7","x":-27.3,"y":-0.95},
{"p":"a","s":"l8","x":-24.5,"y":-1.66},{"p":"a","s":"l8","x":-23,"y":-0.85},
{"p":"a","s":"l9","x":-20.5,"y":-1.98},{"p":"a","s":"l9","x":-19.8,"y":-0.85},
{"p":"a","s":"l10","x":-12.7,"y":-1.8},{"p":"a","s":"l10","x":-12.5,"y":-0.95},
{"p":"a","s":"l11","x":-5,"y":-1.42},{"p":"a","s":"l11","x":-8.8,"y":-0.85},
{"p":"b","s":"l1","x":-68.5,"y":2.1},{"p":"b","s":"l1","x":-65.7,"y":1.0},
{"p":"b","s":"l2","x":-60.4,"y":3.15},{"p":"b","s":"l2","x":-58.6,"y":0.8},
{"p":"b","s":"l3","x":-51.8,"y":3.15},{"p":"b","s":"l3","x":-53.0,"y":1.1},
{"p":"b","s":"l4","x":-43.3,"y":3.15},{"p":"b","s":"l4","x":-44.2,"y":1.1},
{"p":"b","s":"l5","x":-66.9,"y":-2.42},{"p":"b","s":"l5","x":-58.5,"y":-1.6},
{"p":"b","s":"l6","x":-56.2,"y":-2.9},{"p":"b","s":"l6","x":-54.8,"y":-2.35},
{"p":"b","s":"l7","x":-49.3,"y":-2.95},{"p":"b","s":"l7","x":-49.3,"y":-2.2},
{"p":"b","s":"l8","x":-40.6,"y":-2.2},{"p":"b","s":"l8","x":-39.8,"y":-2.95},
{"p":"c","s":"l1","x":-81.3,"y":3.3},{"p":"c","s":"l1","x":-77.3,"y":1.6},
{"p":"c","s":"l2","x":-75.7,"y":-2.6},{"p":"c","s":"l2","x":-71.5,"y":-0.95},
{"p":"c","s":"l3","x":-28.2,"y":2.85},{"p":"c","s":"l3","x":-35.8,"y":1.7},
{"p":"c","s":"l4","x":-31.9,"y":-2.8},{"p":"c","s":"l4","x":-31.9,"y":-1.55},
{"p":"c","s":"l5","x":-58.7,"y":-3.9},{"p":"c","s":"l5","x":-54.5,"y":-2.9},
{"p":"c","s":"l6","x":-47.5,"y":-4.7},{"p":"c","s":"l6","x":-42.5,"y":-3.9},
{"p":"c","s":"v1","x":-77.3,"y":1.4},{"p":"c","s":"v1","x":-77.3,"y":2.0},
{"p":"c","s":"v2","x":-65.9,"y":1.0},{"p":"c","s":"v2","x":-65.9,"y":1.6},
{"p":"c","s":"v3","x":-61.6,"y":0.75},{"p":"c","s":"v3","x":-61.6,"y":1.45},
{"p":"c","s":"v4","x":-51.4,"y":1.2},{"p":"c","s":"v4","x":-51.4,"y":2.0},
{"p":"c","s":"v5","x":-47.0,"y":0.6},{"p":"c","s":"v5","x":-47.0,"y":1.2},
{"p":"c","s":"v6","x":-36.2,"y":0.9},{"p":"c","s":"v6","x":-36.2,"y":1.8},
{"p":"c","s":"v7","x":-58.4,"y":-1.3},{"p":"c","s":"v7","x":-58.4,"y":-2.8},
{"p":"c","s":"v8","x":-54.6,"y":-1.3},{"p":"c","s":"v8","x":-54.6,"y":-1.9},
{"p":"c","s":"v9","x":-43.8,"y":-1.0},{"p":"c","s":"v9","x":-43.8,"y":-2.0},
{"p":"d","s":"l1","x":-74,"y":1.9},{"p":"d","s":"l1","x":-71.4,"y":0.7},
{"p":"d","s":"l2","x":-65,"y":2.95},{"p":"d","s":"l2","x":-62.4,"y":0.7},
{"p":"d","s":"l3","x":-56.7,"y":3.45},{"p":"d","s":"l3","x":-56.7,"y":0.7},
{"p":"d","s":"l4","x":-44.8,"y":2.85},{"p":"d","s":"l4","x":-47.1,"y":1.2},
{"p":"d","s":"l5","x":-72.9,"y":-2.0},{"p":"d","s":"l5","x":-69,"y":-1.1},
{"p":"d","s":"l6","x":-61.4,"y":-2.75},{"p":"d","s":"l6","x":-61.4,"y":-0.7},
{"p":"d","s":"l7","x":-53.8,"y":-3.3},{"p":"d","s":"l7","x":-54.8,"y":-0.7},
{"p":"d","s":"l8","x":-43.5,"y":-3.45},{"p":"d","s":"l8","x":-45.2,"y":-1.5},
{"p":"e","s":"l1","x":-93.9,"y":1.4},{"p":"e","s":"l1","x":-93.3,"y":0.75},
{"p":"e","s":"l2","x":-87.8,"y":2.95},{"p":"e","s":"l2","x":-85.8,"y":0.6},
{"p":"e","s":"l3","x":-81.1,"y":3.65},{"p":"e","s":"l3","x":-81.9,"y":0.25},
{"p":"e","s":"l4","x":-72.2,"y":2.95},{"p":"e","s":"l4","x":-75,"y":0.45},
{"p":"e","s":"l5","x":-92.2,"y":-1.35},{"p":"e","s":"l5","x":-89.7,"y":-0.75},
{"p":"e","s":"l6","x":-84.4,"y":-3.3},{"p":"e","s":"l6","x":-82.8,"y":-1.05},
{"p":"e","s":"l7","x":-77.2,"y":-4.05},{"p":"e","s":"l7","x":-80,"y":-1.05},
{"p":"e","s":"l8","x":-61.7,"y":-3.4},{"p":"e","s":"l8","x":-77.2,"y":-0.95},
{"p":"f","s":"l1","x":-93.6,"y":0.65},{"p":"f","s":"l1","x":-91.4,"y":0.38},
{"p":"f","s":"l2","x":-86.6,"y":1.45},{"p":"f","s":"l2","x":-86.1,"y":0.85},
{"p":"f","s":"l3","x":-75.3,"y":1.76},{"p":"f","s":"l3","x":-75.3,"y":0.67},
{"p":"f","s":"l4","x":-66.2,"y":1.39},{"p":"f","s":"l4","x":-67.3,"y":0.88},
{"p":"f","s":"l5","x":-91.4,"y":-0.38},{"p":"f","s":"l5","x":-92.5,"y":0.12},
{"p":"f","s":"l6","x":-83.4,"y":-1.3},{"p":"f","s":"l6","x":-80.7,"y":-0.32},
{"p":"f","s":"l7","x":-75.9,"y":-1.72},{"p":"f","s":"l7","x":-75.9,"y":-0.55},
{"p":"f","s":"l8","x":-66.2,"y":-1.4},{"p":"f","s":"l8","x":-70,"y":-0.6}
],
"labels":[
{"p":"a","x":-34.3,"y":1.58,"t":"-26.9(0.3)"},{"p":"a","x":-27.2,"y":2.09,"t":"-22.2(0.4)"},{"p":"a","x":-10.9,"y":1.96,"t":"-18.7(0.5)"},{"p":"a","x":-4.8,"y":1.58,"t":"-11.3(0.8)"},{"p":"a","x":0.2,"y":1.08,"t":"-7.9(1.0)"},
{"p":"a","x":-34.8,"y":-1.38,"t":"-24.3(0.3)"},{"p":"a","x":-31.8,"y":-1.76,"t":"-20.8(0.4)"},{"p":"a","x":-24.2,"y":-2.14,"t":"-17.4(0.5)"},{"p":"a","x":-6.3,"y":-1.94,"t":"-10.0(0.8)"},{"p":"a","x":0.6,"y":-1.53,"t":"-6.9(1.0)"},
{"p":"b","x":-72.3,"y":2.32,"t":"-66.0(0.2)"},{"p":"b","x":-64.5,"y":3.37,"t":"-58.0(0.4)"},{"p":"b","x":-53.2,"y":3.37,"t":"-52.3(0.6)"},{"p":"b","x":-39.6,"y":3.43,"t":"-42.5(1.0)"},
{"p":"b","x":-71.8,"y":-2.5,"t":"-62.6(0.2)"},{"p":"b","x":-60.5,"y":-3.18,"t":"-54.5(0.4)"},{"p":"b","x":-45.9,"y":-3.18,"t":"-47.8(0.6)"},{"p":"b","x":-34.2,"y":-3.18,"t":"-39.6(1.0)"},
{"p":"c","x":-83,"y":3.56,"t":"B"},{"p":"c","x":-76.2,"y":-3.05,"t":"B"},{"p":"c","x":-26.5,"y":3.11,"t":"A"},{"p":"c","x":-31.4,"y":-3.2,"t":"A"},
{"p":"c","x":-62,"y":-4.15,"t":"(0.2)"},{"p":"c","x":-51.7,"y":-4.85,"t":"(0.4)"},{"p":"c","x":-34.6,"y":-4.85,"t":"(0.6)"},{"p":"c","x":-22.5,"y":-4.8,"t":"(1.0)"},
{"p":"d","x":-78.1,"y":2.2,"t":"-71.4(0.2)"},{"p":"d","x":-69.8,"y":3.17,"t":"-63.4(0.4)"},{"p":"d","x":-57.1,"y":3.68,"t":"-57.8(0.6)"},{"p":"d","x":-41,"y":3.17,"t":"-49.0(1.0)"},
{"p":"d","x":-76.5,"y":-2.42,"t":"-69.4(0.2)"},{"p":"d","x":-64.8,"y":-3.06,"t":"-62.0(0.4)"},{"p":"d","x":-52.3,"y":-3.59,"t":"-55.6(0.6)"},{"p":"d","x":-39.3,"y":-3.59,"t":"-45.8(1.0)"},
{"p":"e","x":-94.2,"y":1.68,"t":"-92.4(0.2)"},{"p":"e","x":-93.1,"y":3.28,"t":"-85.5(0.4)"},{"p":"e","x":-80.3,"y":3.9,"t":"-79.4(0.6)"},{"p":"e","x":-67.8,"y":3.28,"t":"-72.5(1.0)"},
{"p":"e","x":-93.9,"y":-1.78,"t":"-89.4(0.2)"},{"p":"e","x":-85.9,"y":-3.58,"t":"-82.2(0.4)"},{"p":"e","x":-75,"y":-4.45,"t":"-75.5(0.6)"},{"p":"e","x":-55.6,"y":-3.75,"t":"-71.6(1.0)"},
{"p":"f","x":-97.6,"y":0.79,"t":"-92.3(0.2)"},{"p":"f","x":-91.2,"y":1.64,"t":"-84.7(0.4)"},{"p":"f","x":-75.3,"y":1.88,"t":"-79.4(0.6)"},{"p":"f","x":-62,"y":1.52,"t":"-73.4(1.0)"},
{"p":"f","x":-94.6,"y":-0.55,"t":"-90.5(0.2)"},{"p":"f","x":-86.1,"y":-1.45,"t":"-83.6(0.4)"},{"p":"f","x":-76.2,"y":-1.88,"t":"-79.4(0.6)"},{"p":"f","x":-63.3,"y":-1.58,"t":"-73.6(1.0)"}
],
"tags":[
{"p":"a","x":46.7,"y":1.71,"t":"1a"},{"p":"b","x":-32,"y":3.9,"t":"1b"},{"p":"c","x":-17.8,"y":4.44,"t":"2a"},{"p":"d","x":-28.6,"y":3.38,"t":"2b"},{"p":"e","x":-22.2,"y":4.4,"t":"3a"},{"p":"f","x":-25.5,"y":1.76,"t":"3b"}
],
"arrows":[
{"p":"a","x":17.6,"y":1.27,"dir":180},{"p":"a","x":18.2,"y":-1.84,"dir":0},
{"p":"b","x":-84,"y":1.33,"dir":165},{"p":"b","x":-83.2,"y":-1.9,"dir":12},
{"p":"c","x":-87.9,"y":1.72,"dir":170},{"p":"c","x":-87.9,"y":-1.21,"dir":10},
{"p":"d","x":-88.9,"y":0.71,"dir":170},{"p":"d","x":-88.6,"y":-1.22,"dir":15},
{"p":"e","x":-39.4,"y":2.22,"dir":170},{"p":"e","x":-35,"y":-1.46,"dir":-10},
{"p":"f","x":-40.7,"y":1.78,"dir":165},{"p":"f","x":-34.3,"y":-1.37,"dir":-15}
]
},
"columns":2,
"align":"each",
"spacing":{"row":2,"column":18},
"concat":[
{"title":{"text":"a)","offset":-9,"dx":-12},"width":262,"height":127,
"encoding":{"x":{"field":"x","type":"quantitative","scale":{"domain":[-43.6,50.9],"nice":false,"zero":false},"axis":{"values":[-40,-20,0,20,40],"title":"Temperature(℃)"}},"y":{"field":"y","type":"quantitative","scale":{"domain":[-2.3,2.34],"nice":false,"zero":false},"axis":{"values":[-2,-1,0,1,2],"title":"DSC (mW)"}}},
"layer":[
{"data":{"name":"curves"},"transform":[{"filter":"datum.p=='a'"}],"mark":{"type":"line","interpolate":"catmull-rom","color":"black","strokeWidth":1.1},"encoding":{"detail":{"field":"s"},"order":{"value":null}}},
{"data":{"name":"leaders"},"transform":[{"filter":"datum.p=='a'"}],"mark":{"type":"line","color":"black","strokeWidth":0.7},"encoding":{"detail":{"field":"s"},"order":{"value":null}}},
{"data":{"name":"labels"},"transform":[{"filter":"datum.p=='a'"}],"mark":{"type":"text","fontSize":10},"encoding":{"text":{"field":"t"}}},
{"data":{"name":"tags"},"transform":[{"filter":"datum.p=='a'"}],"mark":{"type":"text","fontSize":17,"fontWeight":"bold"},"encoding":{"text":{"field":"t"}}},
{"data":{"name":"arrows"},"transform":[{"filter":"datum.p=='a'"}],"mark":{"type":"point","shape":"M-1,-0.07L0.6,-0.07L0.6,-0.2L1,0L0.6,0.2L0.6,0.07L-1,0.07Z","size":1400,"filled":true,"fill":"white","stroke":"black","strokeWidth":0.8,"opacity":1},"encoding":{"angle":{"field":"dir","type":"quantitative","scale":null}}}
]},
{"title":{"text":"b)","offset":-9,"dx":0},"width":262,"height":127,
"encoding":{"x":{"field":"x","type":"quantitative","scale":{"domain":[-94.3,-27.8],"nice":false,"zero":false},"axis":{"values":[-80,-60,-40],"title":"Temperature(℃)"}},"y":{"field":"y","type":"quantitative","scale":{"domain":[-3.9,4.3],"nice":false,"zero":false},"axis":{"values":[-2,0,2],"title":"DSC (mW)"}}},
"layer":[
{"data":{"name":"curves"},"transform":[{"filter":"datum.p=='b'"}],"mark":{"type":"line","interpolate":"catmull-rom","color":"black","strokeWidth":1.1},"encoding":{"detail":{"field":"s"},"order":{"value":null}}},
{"data":{"name":"leaders"},"transform":[{"filter":"datum.p=='b'"}],"mark":{"type":"line","color":"black","strokeWidth":0.7},"encoding":{"detail":{"field":"s"},"order":{"value":null}}},
{"data":{"name":"labels"},"transform":[{"filter":"datum.p=='b'"}],"mark":{"type":"text","fontSize":10},"encoding":{"text":{"field":"t"}}},
{"data":{"name":"tags"},"transform":[{"filter":"datum.p=='b'"}],"mark":{"type":"text","fontSize":17,"fontWeight":"bold"},"encoding":{"text":{"field":"t"}}},
{"data":{"name":"arrows"},"transform":[{"filter":"datum.p=='b'"}],"mark":{"type":"point","shape":"M-1,-0.07L0.6,-0.07L0.6,-0.2L1,0L0.6,0.2L0.6,0.07L-1,0.07Z","size":1100,"filled":true,"fill":"white","stroke":"black","strokeWidth":0.8,"opacity":1},"encoding":{"angle":{"field":"dir","type":"quantitative","scale":null}}}
]},
{"title":{"text":"c)","offset":-8,"dx":-12},"width":262,"height":123,
"encoding":{"x":{"field":"x","type":"quantitative","scale":{"domain":[-98.9,-13.5],"nice":false,"zero":false},"axis":{"values":[-80,-60,-40,-20],"title":"Temperature(℃)"}},"y":{"field":"y","type":"quantitative","scale":{"domain":[-5.33,5.33],"nice":false,"zero":false},"axis":{"values":[-4,-2,0,2,4],"title":"DSC (mW)"}}},
"layer":[
{"data":{"name":"curves"},"transform":[{"filter":"datum.p=='c'"}],"mark":{"type":"line","interpolate":"catmull-rom","color":"black","strokeWidth":1.1},"encoding":{"detail":{"field":"s"},"order":{"value":null}}},
{"data":{"name":"leaders"},"transform":[{"filter":"datum.p=='c'"}],"mark":{"type":"line","color":"black","strokeWidth":0.7},"encoding":{"detail":{"field":"s"},"order":{"value":null}}},
{"data":{"name":"labels"},"transform":[{"filter":"datum.p=='c'"}],"mark":{"type":"text","fontSize":10},"encoding":{"text":{"field":"t"}}},
{"data":{"name":"tags"},"transform":[{"filter":"datum.p=='c'"}],"mark":{"type":"text","fontSize":17,"fontWeight":"bold"},"encoding":{"text":{"field":"t"}}},
{"data":{"name":"arrows"},"transform":[{"filter":"datum.p=='c'"}],"mark":{"type":"point","shape":"M-1,-0.07L0.6,-0.07L0.6,-0.2L1,0L0.6,0.2L0.6,0.07L-1,0.07Z","size":1100,"filled":true,"fill":"white","stroke":"black","strokeWidth":0.8,"opacity":1},"encoding":{"angle":{"field":"dir","type":"quantitative","scale":null}}}
]},
{"title":{"text":"d)","offset":-8,"dx":0},"width":262,"height":123,
"encoding":{"x":{"field":"x","type":"quantitative","scale":{"domain":[-98.1,-23.8],"nice":false,"zero":false},"axis":{"values":[-80,-60,-40],"title":"Temperature(℃)"}},"y":{"field":"y","type":"quantitative","scale":{"domain":[-4.0,4.03],"nice":false,"zero":false},"axis":{"values":[-2,0,2],"title":"DSC (mW)"}}},
"layer":[
{"data":{"name":"curves"},"transform":[{"filter":"datum.p=='d'"}],"mark":{"type":"line","interpolate":"catmull-rom","color":"black","strokeWidth":1.1},"encoding":{"detail":{"field":"s"},"order":{"value":null}}},
{"data":{"name":"leaders"},"transform":[{"filter":"datum.p=='d'"}],"mark":{"type":"line","color":"black","strokeWidth":0.7},"encoding":{"detail":{"field":"s"},"order":{"value":null}}},
{"data":{"name":"labels"},"transform":[{"filter":"datum.p=='d'"}],"mark":{"type":"text","fontSize":10},"encoding":{"text":{"field":"t"}}},
{"data":{"name":"tags"},"transform":[{"filter":"datum.p=='d'"}],"mark":{"type":"text","fontSize":17,"fontWeight":"bold"},"encoding":{"text":{"field":"t"}}},
{"data":{"name":"arrows"},"transform":[{"filter":"datum.p=='d'"}],"mark":{"type":"point","shape":"M-1,-0.07L0.6,-0.07L0.6,-0.2L1,0L0.6,0.2L0.6,0.07L-1,0.07Z","size":1000,"filled":true,"fill":"white","stroke":"black","strokeWidth":0.8,"opacity":1},"encoding":{"angle":{"field":"dir","type":"quantitative","scale":null}}}
]},
{"title":{"text":"e)","offset":-20,"dx":1},"width":262,"height":131,
"encoding":{"x":{"field":"x","type":"quantitative","scale":{"domain":[-104.4,-16.7],"nice":false,"zero":false},"axis":{"values":[-100,-80,-60,-40,-20],"title":"Temperature(℃)"}},"y":{"field":"y","type":"quantitative","scale":{"domain":[-4.74,5.26],"nice":false,"zero":false},"axis":{"values":[-2,0,2],"title":"DSC (mW)"}}},
"layer":[
{"data":{"name":"curves"},"transform":[{"filter":"datum.p=='e'"}],"mark":{"type":"line","interpolate":"catmull-rom","color":"black","strokeWidth":1.1},"encoding":{"detail":{"field":"s"},"order":{"value":null}}},
{"data":{"name":"leaders"},"transform":[{"filter":"datum.p=='e'"}],"mark":{"type":"line","color":"black","strokeWidth":0.7},"encoding":{"detail":{"field":"s"},"order":{"value":null}}},
{"data":{"name":"labels"},"transform":[{"filter":"datum.p=='e'"}],"mark":{"type":"text","fontSize":10},"encoding":{"text":{"field":"t"}}},
{"data":{"name":"tags"},"transform":[{"filter":"datum.p=='e'"}],"mark":{"type":"text","fontSize":17,"fontWeight":"bold"},"encoding":{"text":{"field":"t"}}},
{"data":{"name":"arrows"},"transform":[{"filter":"datum.p=='e'"}],"mark":{"type":"point","shape":"M-1,-0.07L0.6,-0.07L0.6,-0.2L1,0L0.6,0.2L0.6,0.07L-1,0.07Z","size":1100,"filled":true,"fill":"white","stroke":"black","strokeWidth":0.8,"opacity":1},"encoding":{"angle":{"field":"dir","type":"quantitative","scale":null}}}
]},
{"title":{"text":"f)","offset":-20,"dx":0},"width":262,"height":131,
"encoding":{"x":{"field":"x","type":"quantitative","scale":{"domain":[-104.3,-20.7],"nice":false,"zero":false},"axis":{"values":[-100,-80,-60,-40],"title":"Temperature(℃)"}},"y":{"field":"y","type":"quantitative","scale":{"domain":[-2.36,2.55],"nice":false,"zero":false},"axis":{"values":[-2,-1,0,1,2],"title":"DSC (mW)"}}},
"layer":[
{"data":{"name":"curves"},"transform":[{"filter":"datum.p=='f'"}],"mark":{"type":"line","interpolate":"catmull-rom","color":"black","strokeWidth":1.1},"encoding":{"detail":{"field":"s"},"order":{"value":null}}},
{"data":{"name":"leaders"},"transform":[{"filter":"datum.p=='f'"}],"mark":{"type":"line","color":"black","strokeWidth":0.7},"encoding":{"detail":{"field":"s"},"order":{"value":null}}},
{"data":{"name":"labels"},"transform":[{"filter":"datum.p=='f'"}],"mark":{"type":"text","fontSize":10},"encoding":{"text":{"field":"t"}}},
{"data":{"name":"tags"},"transform":[{"filter":"datum.p=='f'"}],"mark":{"type":"text","fontSize":17,"fontWeight":"bold"},"encoding":{"text":{"field":"t"}}},
{"data":{"name":"arrows"},"transform":[{"filter":"datum.p=='f'"}],"mark":{"type":"point","shape":"M-1,-0.07L0.6,-0.07L0.6,-0.2L1,0L0.6,0.2L0.6,0.07L-1,0.07Z","size":1100,"filled":true,"fill":"white","stroke":"black","strokeWidth":0.8,"opacity":1},"encoding":{"angle":{"field":"dir","type":"quantitative","scale":null}}}
]}
],
"config":{
"view":{"stroke":"black","strokeWidth":1.5},
"axis":{"grid":false,"domain":false,"ticks":true,"tickSize":2,"tickColor":"black","labelFont":"Liberation Sans","labelFontSize":10,"labelColor":"black","labelPadding":1,"labelFlush":false,"labelOverlap":false,"titleFont":"Liberation Sans","titleFontSize":11,"titleFontWeight":"normal","titleColor":"black","titlePadding":1,"labelExpr":"replace(format(datum.value,'.2f'),'\u2212','-')"},
"axisX":{"titleY":22,"titleBaseline":"alphabetic"},
"axisY":{"titleFontSize":10,"titlePadding":2},
"title":{"font":"Liberation Sans","fontSize":21,"fontWeight":"normal","anchor":"start","frame":"bounds","color":"black"},
"text":{"font":"Liberation Sans","color":"black"}
}
}
